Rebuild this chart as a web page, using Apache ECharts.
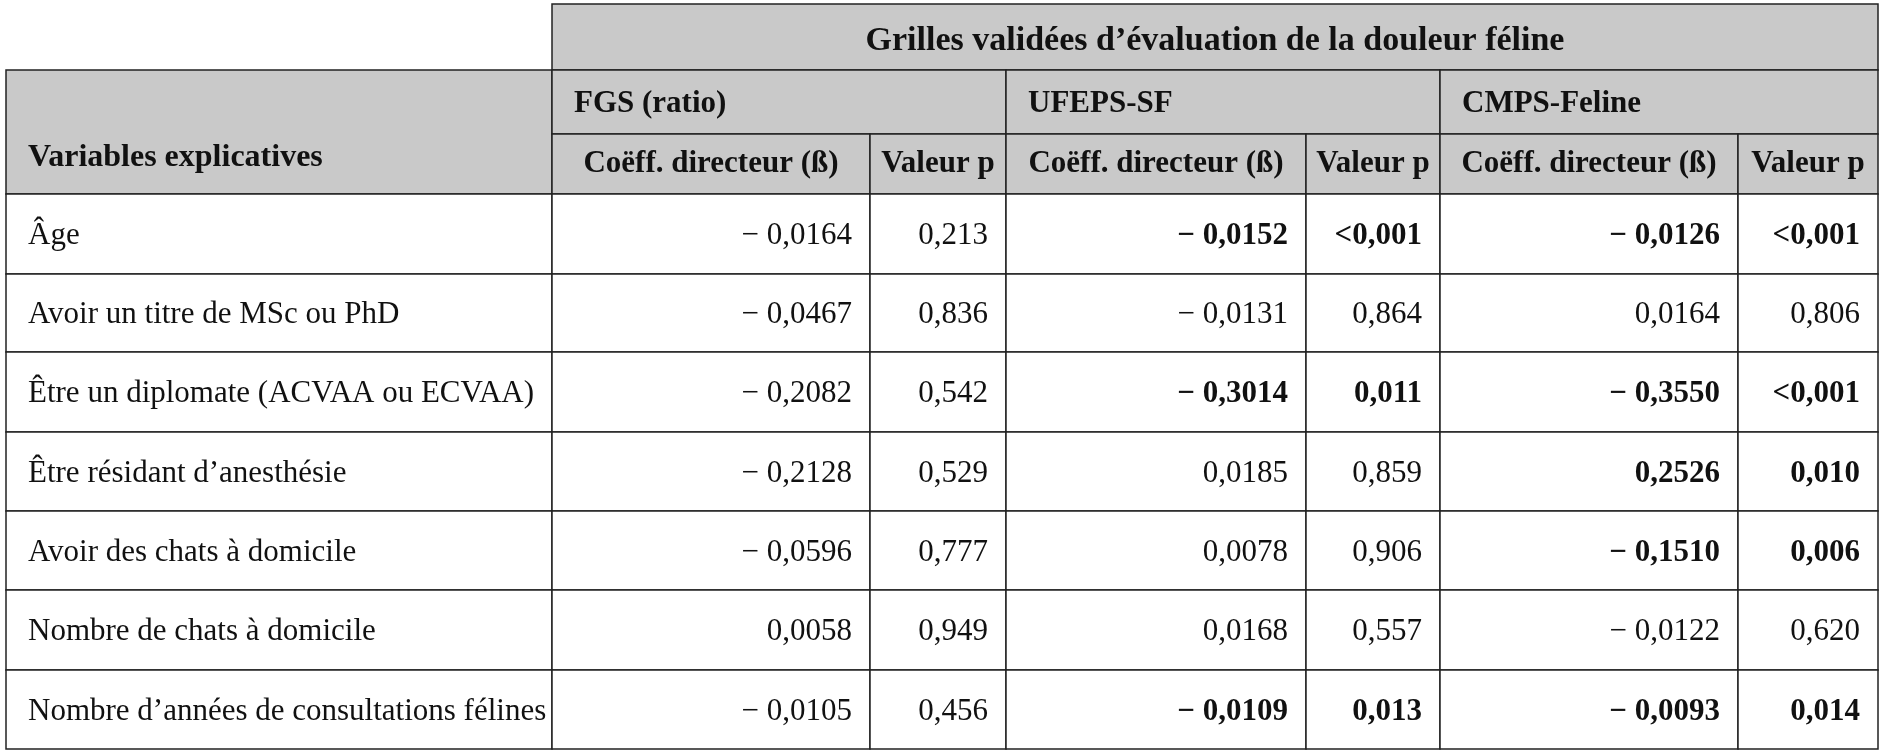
<!DOCTYPE html>
<html><head><meta charset="utf-8">
<script src="https://cdn.jsdelivr.net/npm/echarts@6/dist/echarts.min.js"></script>
<style>html,body{margin:0;background:#fff}#c{width:1882px;height:752px}</style>
</head><body><div id="c"></div>
<script>
const variables = ['Âge', 'Avoir un titre de MSc ou PhD', 'Être un diplomate (ACVAA ou ECVAA)',
  'Être résidant d’anesthésie', 'Avoir des chats à domicile', 'Nombre de chats à domicile',
  'Nombre d’années de consultations félines'];
const fgsBeta = ['− 0,0164', '− 0,0467', '− 0,2082', '− 0,2128', '− 0,0596', '0,0058', '− 0,0105'];
const fgsP = ['0,213', '0,836', '0,542', '0,529', '0,777', '0,949', '0,456'];
const ufepsBeta = ['− 0,0152', '− 0,0131', '− 0,3014', '0,0185', '0,0078', '0,0168', '− 0,0109'];
const ufepsP = ['<0,001', '0,864', '0,011', '0,859', '0,906', '0,557', '0,013'];
const cmpsBeta = ['− 0,0126', '0,0164', '− 0,3550', '0,2526', '− 0,1510', '− 0,0122', '− 0,0093'];
const cmpsP = ['<0,001', '0,806', '<0,001', '0,010', '0,006', '0,620', '0,014'];
const ufepsBold = [1, 0, 1, 0, 0, 0, 1];
const cmpsBold = [1, 0, 1, 1, 1, 0, 1];
const title = 'Grilles validées d’évaluation de la douleur féline';
const groups = ['FGS (ratio)', 'UFEPS-SF', 'CMPS-Feline'];
const subHeads = ['Coëff. directeur (ß)', 'Valeur p'];
const rowHead = 'Variables explicatives';

// layout
const colX = [6, 552, 870, 1006, 1306, 1440, 1738, 1878];
const rowY = [4, 70, 134, 194, 274, 352, 432, 511, 590, 670, 749];
const HEAD = '#c9c9c9';

const cells = [];
// [x0, x1, y0, y1, text, align, bold, fill, fontSize, textY offset]
cells.push([colX[1], colX[7], rowY[0], rowY[1], title, 'center', 1, HEAD, 34, 4]);
cells.push([colX[0], colX[1], rowY[1], rowY[3], rowHead, 'left', 1, HEAD, 32, 26]);
groups.forEach((g, i) => {
  cells.push([colX[1 + 2 * i], colX[3 + 2 * i], rowY[1], rowY[2], g, 'left', 1, HEAD, 31, 2]);
  subHeads.forEach((s, j) => cells.push([colX[1 + 2 * i + j], colX[2 + 2 * i + j], rowY[2], rowY[3], s, 'center', 1, HEAD, 31, 0]));
});
variables.forEach((v, r) => {
  const y0 = rowY[3 + r], y1 = rowY[4 + r];
  const vals = [[fgsBeta[r], 0], [fgsP[r], 0], [ufepsBeta[r], ufepsBold[r]], [ufepsP[r], ufepsBold[r]],
    [cmpsBeta[r], cmpsBold[r]], [cmpsP[r], cmpsBold[r]]];
  cells.push([colX[0], colX[1], y0, y1, v, 'left', 0, '#fff', 31, 2]);
  vals.forEach((c, k) => cells.push([colX[1 + k], colX[2 + k], y0, y1, c[0], 'right', c[1], '#fff', 31, 2]));
});

const chart = echarts.init(document.getElementById('c'));
chart.setOption({
  animation: false,
  grid: { left: 0, right: 0, top: 0, bottom: 0 },
  xAxis: { type: 'value', min: 0, max: 1882, show: false },
  yAxis: { type: 'value', min: 0, max: 752, inverse: true, show: false },
  series: [{
    type: 'custom',
    data: cells,
    renderItem: (params, api) => {
      const d = cells[params.dataIndex];
      const p0 = api.coord([d[0], d[2]]), p1 = api.coord([d[1], d[3]]);
      const w = p1[0] - p0[0], h = p1[1] - p0[1];
      const pad = d[5] === 'left' ? 22 : 18;
      const tx = d[5] === 'left' ? p0[0] + pad : d[5] === 'right' ? p1[0] - pad : p0[0] + w / 2;
      return {
        type: 'group',
        children: [
          { type: 'rect', shape: { x: p0[0], y: p0[1], width: w, height: h },
            style: { fill: d[7], stroke: '#222', lineWidth: 1.5 } },
          { type: 'text', x: tx, y: p0[1] + h / 2 + d[9],
            style: { text: d[4], textAlign: d[5], textVerticalAlign: 'middle',
              font: (d[6] ? 'bold ' : '') + d[8] + 'px "Liberation Serif", serif', fill: '#111' } }
        ]
      };
    }
  }]
});
</script></body></html>
